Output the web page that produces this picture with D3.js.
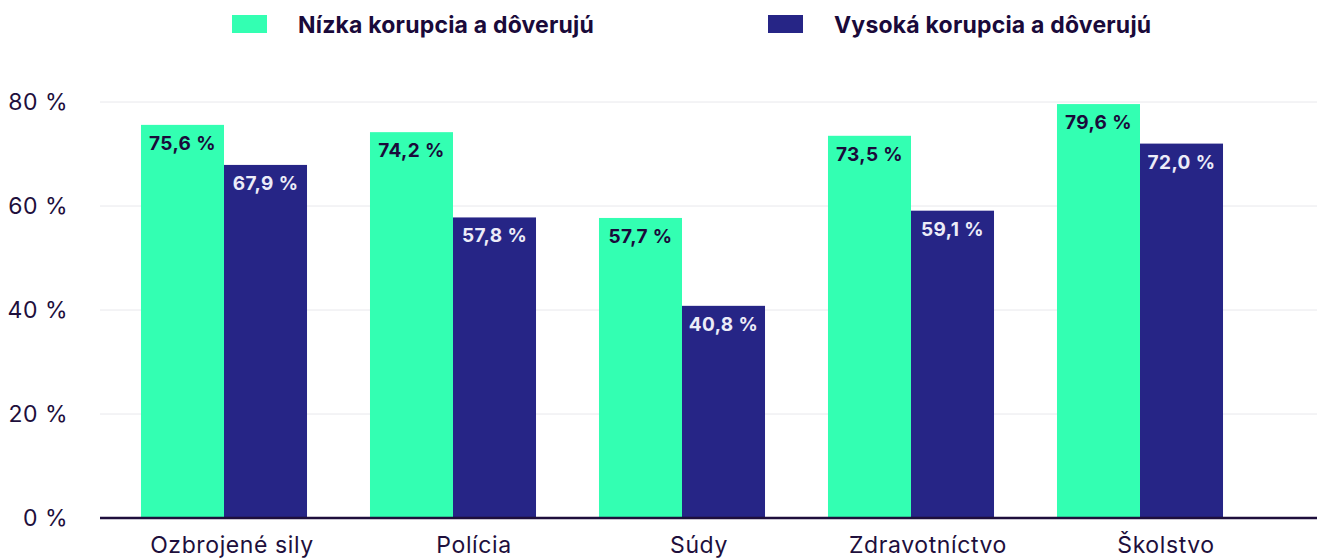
<!DOCTYPE html>
<html><head><meta charset="utf-8">
<script src="https://cdn.jsdelivr.net/npm/d3@7"></script>
<style>body{margin:0;background:#fff}svg{display:block;font-family:Inter,"Noto Sans",sans-serif}</style>
</head><body><svg id="c" width="1317" height="558"></svg>
<script>
const categories = ["Ozbrojené sily","Polícia","Súdy","Zdravotníctvo","Školstvo"];
const seriesNames = ["Nízka korupcia a dôverujú","Vysoká korupcia a dôverujú"];
const lowCorruption = [75.6,74.2,57.7,73.5,79.6];
const highCorruption = [67.9,57.8,40.8,59.1,72.0];
const yTicks = [0,20,40,60,80];
const colors = ["#33ffb2","#262586"];
const labelColors = ["#1a0a3a","#ececf8"];
const textColor = "#1e0f3c";
// horizontal nudge of category labels relative to group centre (as in the reference)
const xLabelShift = [8,21,17,17,26];

const svg = d3.select("#c");
const y = d3.scaleLinear().domain([0,80]).range([518,102]);
const x = d3.scaleBand().domain(categories).range([109.5,1254.5]).paddingInner(0.275).paddingOuter(0.1375);
const xs = d3.scaleBand().domain([0,1]).range([0,x.bandwidth()]);
const fmt = v => d3.format(".1f")(v).replace(".",",") + " %";

// grid
svg.append("g").selectAll("line").data(yTicks.filter(t=>t>0)).join("line")
  .attr("x1",100).attr("x2",1317).attr("y1",d=>y(d)).attr("y2",d=>y(d))
  .attr("stroke","#e8e8ec").attr("stroke-width",1);

// y labels
svg.append("g").selectAll("text").data(yTicks).join("text")
  .attr("x",68).attr("y",d=>y(d)+8).attr("text-anchor","end")
  .attr("font-size",23).attr("letter-spacing",0.5).attr("fill",textColor).text(d=>d+" %");

const data = categories.map((c,i)=>({c, vals:[lowCorruption[i],highCorruption[i]]}));
const g = svg.append("g").selectAll("g").data(data).join("g")
  .attr("transform",d=>`translate(${x(d.c)},0)`);
g.selectAll("rect").data(d=>d.vals.map((v,k)=>({v,k}))).join("rect")
  .attr("x",d=>xs(d.k)).attr("width",xs.bandwidth())
  .attr("y",d=>y(d.v)).attr("height",d=>y(0)-y(d.v)).attr("fill",d=>colors[d.k]);
g.selectAll("text").data(d=>d.vals.map((v,k)=>({v,k}))).join("text")
  .attr("x",d=>xs(d.k)+xs.bandwidth()/2).attr("y",d=>y(d.v)+25)
  .attr("text-anchor","middle").attr("font-size",19).attr("font-weight",700).attr("letter-spacing",0.4)
  .attr("fill",d=>labelColors[d.k]).text(d=>fmt(d.v));

// baseline
svg.append("line").attr("x1",100).attr("x2",1317).attr("y1",y(0)).attr("y2",y(0))
  .attr("stroke","#1e0f3c").attr("stroke-width",2.5);

// x labels
svg.append("g").selectAll("text").data(categories).join("text")
  .attr("x",(d,i)=>x(d)+x.bandwidth()/2+xLabelShift[i]).attr("y",553).attr("text-anchor","middle")
  .attr("font-size",23).attr("letter-spacing",0.6).attr("fill",textColor).text(d=>d);

// legend
const legX = [232,768];
const lg = svg.append("g").selectAll("g").data(seriesNames).join("g")
  .attr("transform",(d,i)=>`translate(${legX[i]},0)`);
lg.append("rect").attr("x",0).attr("y",15).attr("width",35).attr("height",18).attr("fill",(d,i)=>colors[i]);
lg.append("text").attr("x",66).attr("y",33).attr("font-size",23).attr("font-weight",700).attr("letter-spacing",0.2)
  .attr("fill","#1a0a3a").text(d=>d);
</script></body></html>
